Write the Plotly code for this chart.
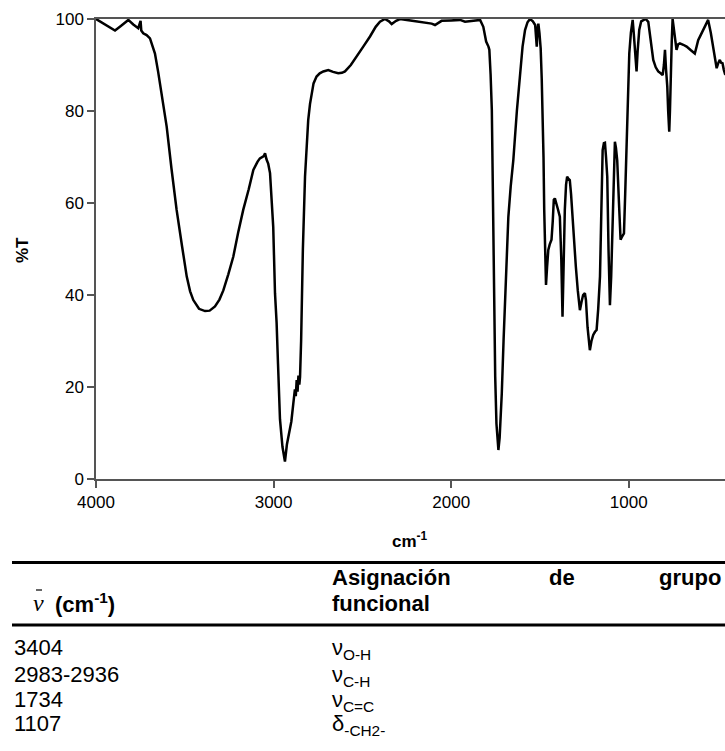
import plotly.graph_objects as go

# ---- spectrum data ----
wavenumber = [4000, 3950, 3893, 3860, 3818, 3790, 3762, 3749, 3745, 3734, 3715, 3696, 3668, 3650, 3630,
              3602, 3575, 3546, 3515, 3489, 3470, 3452, 3420, 3386, 3360, 3330, 3305, 3283, 3255, 3227,
              3200, 3171, 3140, 3114, 3090, 3077, 3055, 3048, 3040, 3030, 3020, 3010, 3002, 2992, 2983,
              2975, 2964, 2950, 2936, 2925, 2908, 2900, 2889, 2880, 2875, 2870, 2865, 2860, 2855, 2851,
              2845, 2842, 2835, 2823, 2815, 2805, 2795, 2786, 2775, 2758, 2740, 2720, 2692, 2665, 2636,
              2615, 2598, 2565, 2532, 2495, 2457, 2425, 2401, 2373, 2350, 2335, 2310, 2288, 2250, 2213,
              2175, 2138, 2110, 2091, 2070, 2054, 2000, 1950, 1922, 1880, 1837, 1819, 1810, 1803, 1790,
              1785, 1778, 1771, 1766, 1762, 1757, 1752, 1745, 1740, 1734, 1727, 1720, 1715, 1705, 1696,
              1687, 1678, 1665, 1650, 1630, 1612, 1598, 1584, 1570, 1556, 1540, 1527, 1522, 1518, 1513,
              1509, 1503, 1496, 1490, 1485, 1480, 1476, 1470, 1466, 1460, 1453, 1445, 1435, 1428, 1422,
              1416, 1410, 1400, 1388, 1380, 1373, 1367, 1360, 1353, 1347, 1340, 1332, 1325, 1317, 1308,
              1298, 1287, 1275, 1266, 1257, 1247, 1241, 1232, 1223, 1219, 1210, 1200, 1190, 1181, 1172,
              1162, 1155, 1147, 1140, 1134, 1128, 1121, 1114, 1106, 1099, 1091, 1085, 1078, 1072, 1065,
              1055, 1046, 1040, 1034, 1027, 1020, 1012, 1005, 997, 988, 978, 972, 965, 960, 956,
              950, 941, 930, 918, 905, 890, 876, 862, 848, 834, 820, 809, 802, 796, 790,
              783, 778, 772, 768, 764, 758, 753, 742, 731, 722, 712, 693, 674, 650, 628,
              618, 609, 595, 584, 568, 553, 538, 525, 514, 505, 495, 487, 480, 472, 465,
              459, 450]
transmittance = [100, 98.8, 97.5, 98.5, 99.8, 98.8, 98.0, 99.6, 97.5, 96.9, 96.5, 95.8, 92.5, 88.5, 83.8,
                 76.6, 67.5, 58.5, 50.5, 44.0, 40.8, 38.9, 37.0, 36.5, 36.6, 37.5, 39.0, 41.0, 44.5, 48.3,
                 53.5, 58.5, 63.0, 67.2, 69.0, 69.7, 70.2, 70.8, 69.5, 68.5, 66.5, 61.0, 54.8, 40.4, 34.0,
                 25.0, 13.0, 7.0, 3.8, 7.5, 11.4, 12.5, 16.4, 19.5, 18.0, 21.5, 19.0, 22.5, 20.5, 22.2,
                 30.0, 36.7, 50.0, 65.7, 72.0, 78.0, 81.5, 83.8, 86.0, 87.5, 88.2, 88.6, 88.9, 88.5, 88.2,
                 88.3, 88.6, 90.0, 91.8, 94.0, 96.2, 98.3, 99.4, 100, 99.5, 98.9, 99.6, 100, 99.8, 99.6,
                 99.3, 99.2, 99.0, 98.7, 99.2, 99.6, 99.7, 99.8, 99.4, 99.6, 99.8, 98.3, 96.5, 95.1, 94.0,
                 93.3, 88.0, 80.2, 65.0, 51.2, 36.0, 22.2, 12.0, 8.0, 6.3, 9.0, 14.0, 18.6, 30.0, 40.4,
                 49.5, 57.0, 63.5, 69.3, 80.0, 88.9, 94.0, 97.6, 99.3, 100, 99.5, 98.7, 96.0, 94.0, 98.0,
                 99.0, 97.0, 93.6, 87.0, 80.2, 70.0, 58.5, 48.0, 42.2, 46.0, 49.8, 51.0, 52.0, 56.0, 60.7,
                 61.0, 59.9, 58.8, 57.0, 48.0, 35.3, 48.0, 58.5, 64.0, 65.7, 65.3, 65.0, 62.0, 57.0, 51.0,
                 46.2, 41.0, 36.7, 38.5, 40.0, 40.4, 38.9, 33.0, 28.8, 28.0, 30.0, 31.3, 32.0, 32.4, 37.0,
                 44.0, 57.0, 71.5, 73.0, 73.1, 70.0, 65.7, 50.0, 37.8, 44.0, 54.8, 65.0, 73.3, 72.0, 69.3,
                 60.0, 52.0, 52.5, 53.0, 53.4, 62.0, 71.5, 83.0, 92.5, 97.0, 99.8, 97.0, 93.3, 90.0, 88.6,
                 93.0, 97.6, 99.5, 99.8, 100, 99.4, 95.5, 91.1, 89.5, 88.6, 88.2, 87.8, 90.0, 93.3, 89.0,
                 85.3, 80.0, 75.5, 80.0, 87.5, 95.0, 100, 96.0, 93.3, 94.5, 94.7, 94.4, 94.0, 93.2, 92.5,
                 94.0, 95.4, 96.5, 97.3, 98.5, 99.8, 97.0, 94.0, 91.0, 89.3, 90.5, 91.1, 90.5, 90.4, 89.0,
                 88.2, 88.5]

x_ticks = [4000, 3000, 2000, 1000]
y_ticks = [0, 20, 40, 60, 80, 100]

# ---- table data ----
table_header_symbol = "ν"
table_header_left = "(cm<sup>-1</sup>)"
table_header_right = ["Asignación", "de", "grupo", "funcional"]
table_wavenumbers = ["3404", "2983-2936", "1734", "1107"]
table_assignments = ["ν<sub>O-H</sub>", "ν<sub>C-H</sub>", "ν<sub>C=C</sub>", "δ<sub>-CH2-</sub>"]

W, H = 725, 751
L, R, T, B = 96, 0, 19, 272


def px(x):
    return (x - L) / (W - L - R)


def py(y):
    return (H - B - y) / (H - B - T)


FONT = "Liberation Sans, Arial, sans-serif"
AXC = "#555555"
TFS = 22

fig = go.Figure()
fig.add_trace(go.Scatter(x=wavenumber, y=transmittance, mode="lines",
                         line=dict(color="black", width=2.5), showlegend=False,
                         hoverinfo="skip"))

fig.update_layout(
    width=W, height=H,
    margin=dict(l=L, r=R, t=T, b=B),
    paper_bgcolor="white", plot_bgcolor="white",
    font=dict(family=FONT, color="black", size=17),
    xaxis=dict(range=[4000, 458], tickvals=x_ticks, ticks="outside", ticklen=7,
               tickcolor=AXC, tickwidth=1.5, showline=True, linecolor=AXC, linewidth=1.5,
               mirror=True, showgrid=False, zeroline=False,
               tickfont=dict(size=17, family=FONT, color="black")),
    yaxis=dict(range=[0, 100], tickvals=y_ticks, ticks="outside", ticklen=7,
               tickcolor=AXC, tickwidth=1.5, showline=True, linecolor=AXC, linewidth=1.5,
               showgrid=False, zeroline=False,
               tickfont=dict(size=17, family=FONT, color="black")),
)

ann = []
# axis titles
ann.append(dict(x=px(22), y=py(250), xref="paper", yref="paper", text="<b>%T</b>",
                textangle=-90, showarrow=False, font=dict(size=17, family=FONT),
                xanchor="center", yanchor="middle"))
ann.append(dict(x=px(410), y=py(540), xref="paper", yref="paper", text="<b>cm<sup>-1</sup></b>",
                showarrow=False, font=dict(size=17, family=FONT),
                xanchor="center", yanchor="middle"))

# table header
ann.append(dict(x=px(31), y=py(603), xref="paper", yref="paper",
                text="<i>" + table_header_symbol + "</i>", showarrow=False,
                font=dict(size=24, family="Liberation Serif, Times New Roman, serif"),
                xanchor="left", yanchor="middle"))
ann.append(dict(x=px(53), y=py(603), xref="paper", yref="paper",
                text="<b>" + table_header_left + "</b>", showarrow=False,
                font=dict(size=TFS, family=FONT), xanchor="left", yanchor="middle"))
ann.append(dict(x=px(330), y=py(577), xref="paper", yref="paper",
                text="<b>" + table_header_right[0] + "</b>", showarrow=False,
                font=dict(size=TFS, family=FONT), xanchor="left", yanchor="middle"))
ann.append(dict(x=px(562), y=py(577), xref="paper", yref="paper",
                text="<b>" + table_header_right[1] + "</b>", showarrow=False,
                font=dict(size=TFS, family=FONT), xanchor="center", yanchor="middle"))
ann.append(dict(x=px(723), y=py(577), xref="paper", yref="paper",
                text="<b>" + table_header_right[2] + "</b>", showarrow=False,
                font=dict(size=TFS, family=FONT), xanchor="right", yanchor="middle"))
ann.append(dict(x=px(330), y=py(603), xref="paper", yref="paper",
                text="<b>" + table_header_right[3] + "</b>", showarrow=False,
                font=dict(size=TFS, family=FONT), xanchor="left", yanchor="middle"))

row_y = [647, 674, 699, 723]
for i, (wn, asg) in enumerate(zip(table_wavenumbers, table_assignments)):
    ann.append(dict(x=px(12), y=py(row_y[i]), xref="paper", yref="paper", text=wn,
                    showarrow=False, font=dict(size=TFS, family=FONT),
                    xanchor="left", yanchor="middle"))
    ann.append(dict(x=px(330), y=py(row_y[i] + 2), xref="paper", yref="paper", text=asg,
                    showarrow=False, font=dict(size=TFS, family=FONT),
                    xanchor="left", yanchor="middle"))

fig.update_layout(annotations=ann)

shapes = [
    dict(type="line", xref="paper", yref="paper", x0=px(12), x1=px(725), y0=py(562.5), y1=py(562.5),
         line=dict(color="black", width=3)),
    dict(type="line", xref="paper", yref="paper", x0=px(12), x1=px(725), y0=py(625), y1=py(625),
         line=dict(color="black", width=3)),
    # macron over the nu symbol
    dict(type="line", xref="paper", yref="paper", x0=px(36), x1=px(42), y0=py(590), y1=py(590),
         line=dict(color="black", width=1.2)),
]
fig.update_layout(shapes=shapes)

fig.write_html("out.html")
